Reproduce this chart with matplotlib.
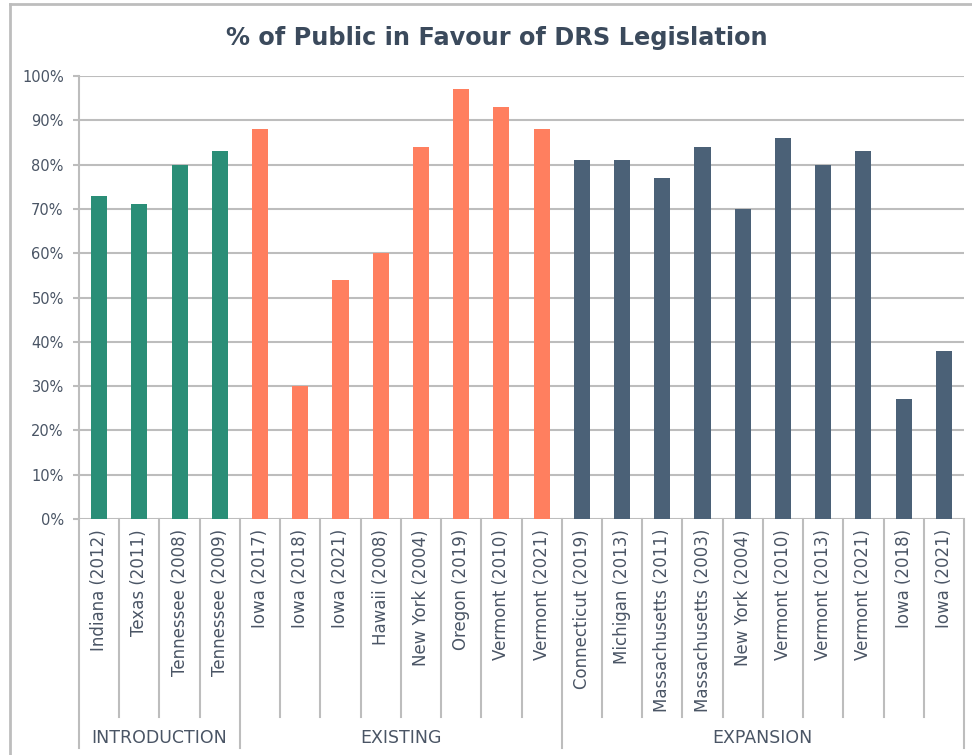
import matplotlib
matplotlib.use("Agg")
import matplotlib.pyplot as plt
import matplotlib.transforms as mtransforms
from matplotlib.lines import Line2D

# data
groups = ["INTRODUCTION", "EXISTING", "EXPANSION"]
intro_labels = ["Indiana (2012)", "Texas (2011)", "Tennessee (2008)", "Tennessee (2009)"]
intro_vals = [73, 71, 80, 83]
existing_labels = ["Iowa (2017)", "Iowa (2018)", "Iowa (2021)", "Hawaii (2008)",
                   "New York (2004)", "Oregon (2019)", "Vermont (2010)", "Vermont (2021)"]
existing_vals = [88, 30, 54, 60, 84, 97, 93, 88]
expansion_labels = ["Connecticut (2019)", "Michigan (2013)", "Massachusetts (2011)",
                    "Massachusetts (2003)", "New York (2004)", "Vermont (2010)",
                    "Vermont (2013)", "Vermont (2021)", "Iowa (2018)", "Iowa (2021)"]
expansion_vals = [81, 81, 77, 84, 70, 86, 80, 83, 27, 38]
yticks = [0, 10, 20, 30, 40, 50, 60, 70, 80, 90, 100]

colors = ["#2a8e77", "#ff7f5f", "#4b6177"]
grid_c = "#bdbdbd"
text_c = "#4a5565"
title_c = "#3b4a5c"

plt.rcParams['font.family'] = ['DejaVu Sans']

W, H = 972, 755
fig = plt.figure(figsize=(W / 100, H / 100), dpi=100)

left_px, right_px, top_px, bot_px = 79, 964, 76, 519
ax = fig.add_axes([left_px / W, 1 - bot_px / H, (right_px - left_px) / W, (bot_px - top_px) / H])


def y_ax(py):
    return (bot_px - py) / (bot_px - top_px)


labels_all = intro_labels + existing_labels + expansion_labels
n = len(labels_all)
pos = 0
group_bounds = [-0.5]
for vals, col in zip([intro_vals, existing_vals, expansion_vals], colors):
    xs = list(range(pos, pos + len(vals)))
    ax.bar(xs, vals, width=0.4, color=col, zorder=3)
    pos += len(vals)
    group_bounds.append(pos - 0.5)

ax.set_xlim(-0.5, n - 0.5)
ax.set_ylim(0, 100)
ax.set_yticks(yticks)
ax.set_yticklabels([f"{v}%" for v in yticks])
ax.set_xticks([])
ax.yaxis.grid(True, color=grid_c, linewidth=1.5, zorder=0)
ax.tick_params(axis='y', length=4, width=1.5, color=grid_c, labelsize=10.5,
               labelcolor=text_c, pad=7)
for s in ["top", "right", "bottom"]:
    ax.spines[s].set_visible(False)
ax.spines["left"].set_color(grid_c)
ax.spines["left"].set_linewidth(1.5)

trans = mtransforms.blended_transform_factory(ax.transData, ax.transAxes)

# category separators
for i in range(n + 1):
    xb = i - 0.5
    y_end = y_ax(748) if xb in group_bounds else y_ax(717)
    ax.plot([xb, xb], [0, y_end], color=grid_c, linewidth=1.5,
            transform=trans, clip_on=False, zorder=2)

# category labels
for i, lab in enumerate(labels_all):
    ax.text(i, y_ax(529), lab, rotation=90, ha='center', va='top',
            fontsize=12, color=text_c, transform=trans)

# group labels
for g, (a, b) in zip(groups, zip(group_bounds[:-1], group_bounds[1:])):
    ax.text((a + b) / 2, y_ax(738), g, ha='center', va='center',
            fontsize=12.5, color=text_c, transform=trans)

fig.text(497 / W, 1 - 38 / H, "% of Public in Favour of DRS Legislation",
         ha='center', va='center', fontsize=17.3, fontweight='bold', color=title_c)

# outer frame lines
fig.add_artist(Line2D([10 / W, 1], [1 - 4 / H, 1 - 4 / H], color=grid_c, linewidth=2,
                      transform=fig.transFigure))
fig.add_artist(Line2D([10 / W, 10 / W], [0, 1 - 4 / H], color=grid_c, linewidth=2,
                      transform=fig.transFigure))

fig.savefig("out.png", dpi=100)
